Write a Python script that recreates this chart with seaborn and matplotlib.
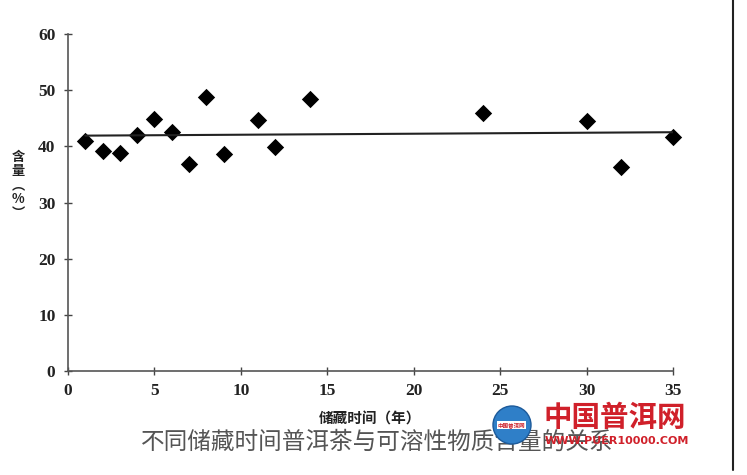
import numpy as np
import matplotlib.pyplot as plt
import seaborn as sns
from matplotlib.patches import Circle
from matplotlib.lines import Line2D

# Storage time (years) and soluble content (%)
years = [1, 2, 3, 4, 5, 6, 7, 8, 9, 11, 12, 14, 24, 30, 32, 35]
content = [41.0, 39.2, 38.8, 42.0, 44.9, 42.5, 36.9, 48.8, 38.6, 44.7, 39.9, 48.4, 45.9, 44.6, 36.4, 41.6]

x_ticks = [0, 5, 10, 15, 20, 25, 30, 35]
y_ticks = [0, 10, 20, 30, 40, 50, 60]

sns.set_style("white")
plt.rcParams['font.family'] = ['Noto Sans CJK SC', 'DejaVu Sans']

fig = plt.figure(figsize=(7.47, 4.75), dpi=100)
ax = fig.add_axes([0.091, 0.219, 0.810, 0.709])

sns.regplot(x=years, y=content, ax=ax, ci=None, marker='D', color='black',
            scatter_kws={'s': 78, 'color': 'black', 'alpha': 1, 'linewidths': 0, 'clip_on': False},
            line_kws={'color': '#222222', 'linewidth': 1.5})

ax.set_xlim(0, 35)
ax.set_ylim(0, 60)
ax.set_xticks(x_ticks)
ax.set_yticks(y_ticks)
ax.set_xticklabels([str(t) for t in x_ticks], family='Liberation Serif', fontweight='bold', fontsize=12.5, color='#222222')
ax.set_yticklabels([str(t) for t in y_ticks], family='Liberation Serif', fontweight='bold', fontsize=12.5, color='#222222')
ax.tick_params(axis='both', direction='inout', length=6, width=1, color='#444444', left=True, bottom=True)
ax.tick_params(axis='y', pad=6)
ax.tick_params(axis='x', pad=6)

for side in ['top', 'right']:
    ax.spines[side].set_visible(False)
for side in ['left', 'bottom']:
    ax.spines[side].set_color('#555555')
    ax.spines[side].set_linewidth(1.2)

ax.set_xlabel('储藏时间（年）', fontsize=10.5, fontweight='bold', color='#222222', labelpad=8)
ax.set_ylabel('')

# vertical y label
fig.text(0.024, 0.61, '含\n量\n︵\n%\n︶', ha='center', va='center', fontsize=9.5,
         fontweight='bold', color='#222222', linespacing=1.0)

# caption
fig.text(0.505, 0.068, '不同储藏时间普洱茶与可溶性物质含量的关系', ha='center', va='center',
         fontsize=17, color='#555555', fontweight='light')

# watermark
fig.patches.append(Circle((5.12, 0.50), 0.19, transform=fig.dpi_scale_trans,
                          facecolor='#2f7fc8', edgecolor='#1c5a9a', lw=1, zorder=5))
fig.text(0.685, 0.105, '中国普洱网', ha='center', va='center', fontsize=4, color='#cc1f2a',
         fontweight='bold', zorder=6, bbox=dict(facecolor='white', edgecolor='none', pad=0.5))
fig.text(0.823, 0.121, '中国普洱网', ha='center', va='center', fontsize=20.5, color='#d0202a',
         fontweight='black', zorder=6)
fig.text(0.826, 0.072, 'WWW.PUER10000.COM', ha='center', va='center', fontsize=8, color='#d0202a',
         fontweight='bold', family='DejaVu Sans', zorder=6)

# right border line
fig.lines.append(Line2D([0.981, 0.981], [0.01, 1.0], transform=fig.transFigure, color='#222222', lw=1.5))

fig.savefig('out.png', dpi=100, facecolor='white')
